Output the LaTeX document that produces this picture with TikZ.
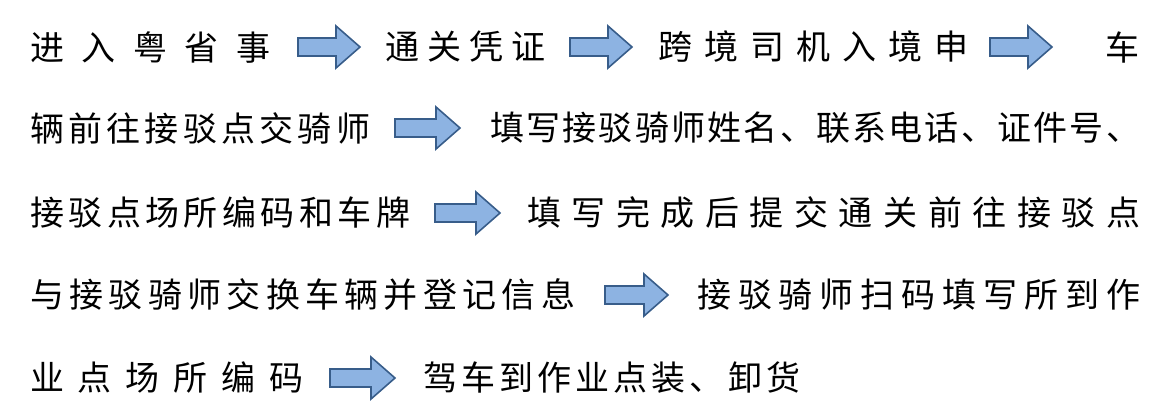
\documentclass[tikz,border=0pt]{standalone}
\usepackage{fontspec}
\newfontfamily\cjk{Noto Sans CJK SC}
\definecolor{afill}{HTML}{8DB3E2}
\definecolor{aline}{HTML}{385D8A}
\def\spr#1{#1\sprnext}
\def\sprnext#1{\ifx#1\relax\else\hfill#1\expandafter\sprnext\fi}
\tikzset{txt/.style={anchor=west,inner sep=0pt,font=\cjk\fontsize{34}{34}\selectfont},
 arrowshape/.style={fill=afill,draw=aline,line width=1.6pt,line join=miter}}
\newcommand\blockarr[3]{\draw[arrowshape] (#1,#3-9)--(#2-24,#3-9)--(#2-24,#3-21)--(#2,#3)--(#2-24,#3+21)--(#2-24,#3+9)--(#1,#3+9)--cycle;}
\newcommand\seg[5]{\node[txt] (#1) at (#2,#4) {\hbox to \dimexpr#3pt-#2pt\relax{\spr#5\relax}};}
\begin{document}
\begin{tikzpicture}[x=1pt,y=-1pt]
\useasboundingbox (0,0) rectangle (1172,418);
\seg{a1}{30}{270}{47}{进入粤省事}
\blockarr{298}{360}{47}
\seg{a2}{385}{545}{47}{通关凭证}
\blockarr{570}{632}{47}
\seg{a3}{658}{968}{47}{跨境司机入境申}
\blockarr{990}{1052}{47}
\node[txt] (a4) at (1105,47) {车};
\seg{b1}{30}{370}{128}{辆前往接驳点交骑师}
\blockarr{395}{460}{128}
\seg{b2}{490}{1140}{128}{填写接驳骑师姓名、联系电话、证件号、}
\seg{c1}{30}{410}{213}{接驳点场所编码和车牌}
\blockarr{435}{500}{213}
\seg{c2}{527}{1140}{213}{填写完成后提交通关前往接驳点}
\seg{d1}{30}{575}{295}{与接驳骑师交换车辆并登记信息}
\blockarr{605}{668}{295}
\seg{d2}{697}{1140}{295}{接驳骑师扫码填写所到作}
\seg{e1}{30}{303}{378}{业点场所编码}
\blockarr{330}{395}{378}
\seg{e2}{423}{800}{378}{驾车到作业点装、卸货}
\end{tikzpicture}
\end{document}
